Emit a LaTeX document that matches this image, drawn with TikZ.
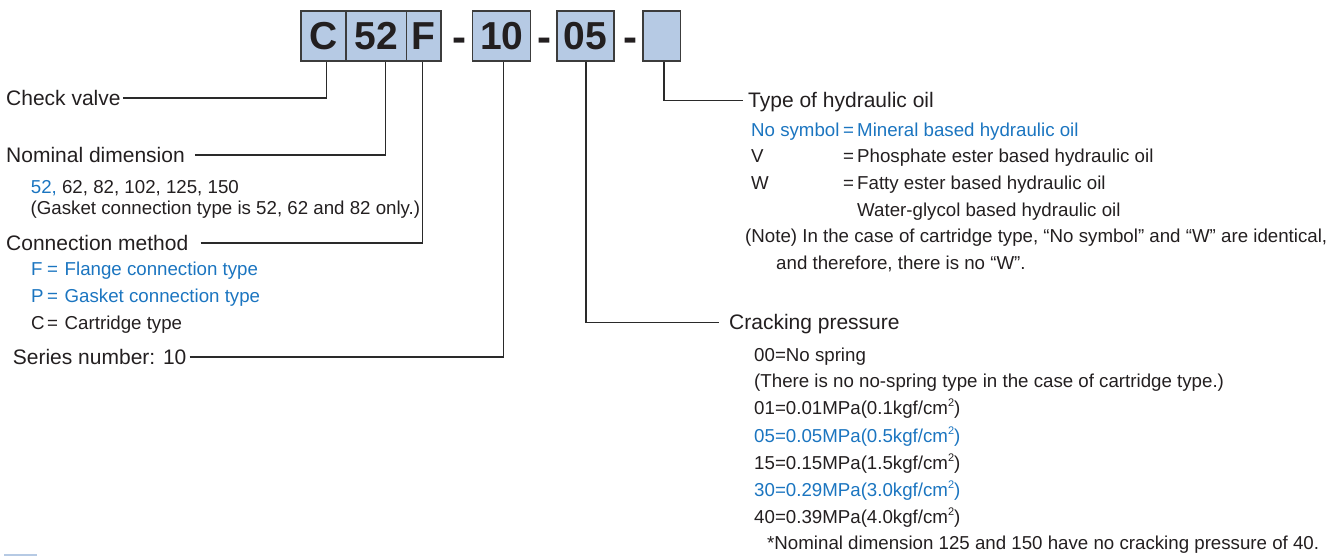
\documentclass[tikz,border=0pt]{standalone}
\usepackage{fontspec}
\setmainfont{Liberation Sans}
\definecolor{boxfill}{HTML}{B6CAE4}
\definecolor{boxline}{HTML}{3C3C3C}
\definecolor{txt}{HTML}{231F20}
\definecolor{hblue}{HTML}{1B75C0}
\definecolor{lineclr}{HTML}{2A2A2A}
\newcommand{\sqtwo}{\raisebox{0.42em}{\fontsize{11}{12}\selectfont 2}}
\begin{document}
\begin{tikzpicture}[x=1pt,y=-1pt,
  codebox/.style={draw=boxline, fill=boxfill, line width=1.5pt, minimum height=50pt, inner sep=0pt,
    font=\fontsize{39}{40}\selectfont\bfseries, text=txt},
  dashsym/.style={anchor=base, inner sep=0pt, font=\fontsize{42}{44}\selectfont\bfseries, text=txt},
  head/.style={anchor=base west, inner sep=0pt, font=\fontsize{21}{24}\selectfont, text=txt},
  sub/.style={anchor=base west, inner sep=0pt, font=\fontsize{18.7}{22}\selectfont, text=txt},
  bl/.style={text=hblue},
  conn/.style={draw=lineclr, line width=1.1pt}]
\useasboundingbox (0,0) rectangle (1337,556);

% code boxes
\node[codebox, minimum width=45pt]   (bC)  at (323.5,36)  {C};
\node[codebox, minimum width=60.7pt] (b52) at (376.35,36) {52};
\node[codebox, minimum width=34.3pt] (bF)  at (423.85,36) {F};
\node[dashsym] (d1) at (459,52) {-};
\node[codebox, minimum width=58pt]   (b10) at (501.7,36)  {10};
\node[dashsym] (d2) at (544,52) {-};
\node[codebox, minimum width=57pt]   (b05) at (585.5,36)  {05};
\node[dashsym] (d3) at (630,52) {-};
\node[codebox, minimum width=37.7pt] (bE)  at (661.85,36) {};

% left labels
\node[head] (cv) at (6,105.5) {Check valve};
\node[head] (nd) at (6,162.5) {Nominal dimension};
\node[sub] (ndl1) at (30.7,193.5) {\textcolor{hblue}{52,} 62, 82, 102, 125, 150};
\node[sub] (ndl2) at (30.5,214.5) {(Gasket connection type is 52, 62 and 82 only.)};
\node[head] (cm) at (6,250.5) {Connection method};
\node[sub,bl] (cmF) at (31,275.5) {F};
\node[sub,bl] (cmFe) at (47,275.5) {=};
\node[sub,bl] (cmFt) at (64.5,275.5) {Flange connection type};
\node[sub,bl] (cmP) at (31,302.5) {P};
\node[sub,bl] (cmPe) at (47,302.5) {=};
\node[sub,bl] (cmPt) at (64.5,302.5) {Gasket connection type};
\node[sub] (cmC) at (31,329.5) {C};
\node[sub] (cmCe) at (47,329.5) {=};
\node[sub] (cmCt) at (64.5,329.5) {Cartridge type};
\node[head] (sn) at (12.7,364.5) {Series number: 10};

% left connectors
\draw[conn] ([xshift=2pt]cv.east) -| ([xshift=3.2pt]bC.south);
\draw[conn] ([xshift=10pt]nd.east) -| ([xshift=9pt]b52.south);
\draw[conn] ([xshift=12pt]cm.east) -| ([xshift=-1.2pt]bF.south);
\draw[conn] ([xshift=3pt]sn.east) -| ([xshift=1.6pt]b10.south);

% right: type of hydraulic oil
\node[head] (ty) at (748,107.5) {Type of hydraulic oil};
\coordinate (ty0) at (743,100.7);
\draw[conn] ([xshift=2.15pt]bE.south) |- (ty0);
\node[sub,bl] (ns) at (751,136.5) {No symbol};
\node[sub,bl] (nse) at (843,136.5) {=};
\node[sub,bl] (nst) at (857,136.5) {Mineral based hydraulic oil};
\node[sub] (v) at (751,163) {V};
\node[sub] (ve) at (843,163) {=};
\node[sub] (vt) at (857,163) {Phosphate ester based hydraulic oil};
\node[sub] (w) at (751,189.5) {W};
\node[sub] (we) at (843,189.5) {=};
\node[sub] (wt) at (857,189.5) {Fatty ester based hydraulic oil};
\node[sub] (wt2) at (857,216.5) {Water-glycol based hydraulic oil};
\node[sub] (note1) at (745,242.5) {(Note) In the case of cartridge type, “No symbol” and “W” are identical,};
\node[sub] (note2) at (776,269.5) {and therefore, there is no “W”.};

% right: cracking pressure
\node[head] (cp) at (729,329.5) {Cracking pressure};
\coordinate (cp0) at (719,322.7);
\draw[conn] ([xshift=0.5pt]b05.south) |- (cp0);
\node[sub] (p00) at (754,361.5) {00=No spring};
\node[sub] (pnote) at (754,387.5) {(There is no no-spring type in the case of cartridge type.)};
\node[sub] (p01) at (754,414.5) {01=0.01MPa(0.1kgf/cm\sqtwo)};
\node[sub,bl] (p05) at (754,442.5) {05=0.05MPa(0.5kgf/cm\sqtwo)};
\node[sub] (p15) at (754,469.5) {15=0.15MPa(1.5kgf/cm\sqtwo)};
\node[sub,bl] (p30) at (754,496.5) {30=0.29MPa(3.0kgf/cm\sqtwo)};
\node[sub] (p40) at (754,523.5) {40=0.39MPa(4.0kgf/cm\sqtwo)};
\node[sub] (pfoot) at (767,549.5) {*Nominal dimension 125 and 150 have no cracking pressure of 40.};

% partial legend swatch at bottom edge
\fill[boxfill] (4,553.5) rectangle (37,556);
\end{tikzpicture}
\end{document}
